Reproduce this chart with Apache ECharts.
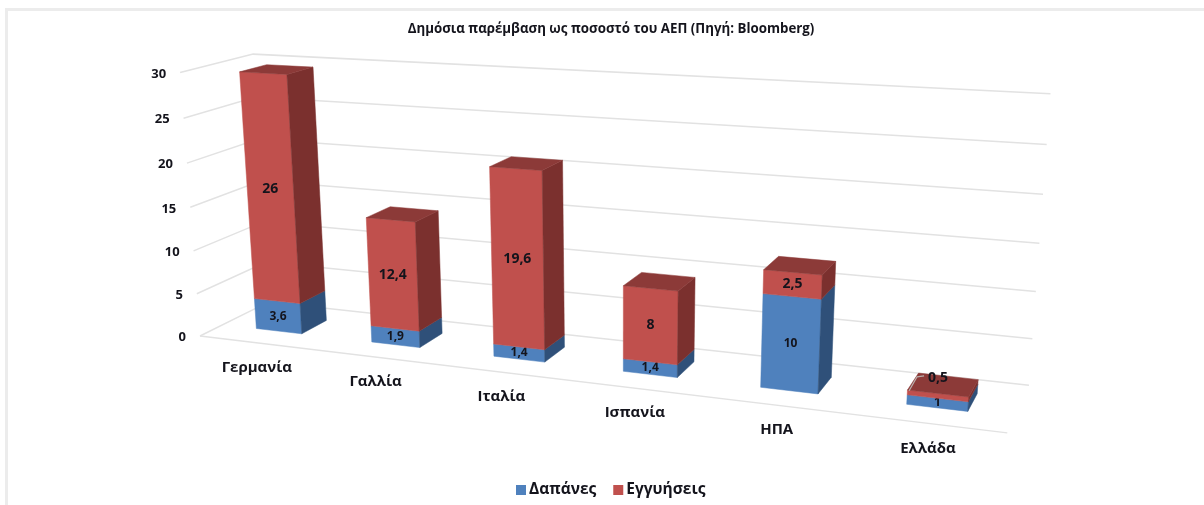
<!DOCTYPE html>
<html>
<head>
<meta charset="utf-8">
<script src="https://cdn.jsdelivr.net/npm/echarts@6/dist/echarts.min.js"></script>
<style>html,body{margin:0;padding:0;background:#fff}#c{width:1204px;height:505px;filter:blur(0.5px)}</style>
</head>
<body>
<div id="c"></div>
<script>
const chartTitle = 'Δημόσια παρέμβαση ως ποσοστό του ΑΕΠ (Πηγή: Bloomberg)';
const categories = ['Γερμανία', 'Γαλλία', 'Ιταλία', 'Ισπανία', 'ΗΠΑ', 'Ελλάδα'];
const spending = [3.6, 1.9, 1.4, 1.4, 10, 1];
const guarantees = [26, 12.4, 19.6, 8, 2.5, 0.5];
const yTicks = [0, 5, 10, 15, 20, 25, 30];
const spendingName = 'Δαπάνες';
const guaranteesName = 'Εγγυήσεις';

const FONT = '"Open Sans", "Liberation Sans", sans-serif';
const INK = '#14141c';
const BLUE = { front: '#4f81bd', side: '#2f5079', top: '#3a628f' };
const RED = { front: '#c0504d', side: '#7b302e', top: '#8c3a38' };
const GRID_LINE = '#e2e2e2';

// Hidden plotting box: the library's axes give the scale, the projection below tilts it.
const G = { left: 100, top: 60, width: 900, height: 300 };
const YMAX = 30;

// Perspective: three vanishing directions from the front-left floor corner.
const O = [200, 336];
const VX = [-3850, -150], KX = -0.0277;
const VY = [621, 5914], KY = -0.0451 / YMAX;
const VZ = [1300, -210], KZ = 0.0666;
function project(u, v, z) {
  const a = u * KX, b = v * KY, c = z * KZ;
  const w = 1 + a + b + c;
  return [
    (O[0] + a * VX[0] + b * VY[0] + c * VZ[0]) / w,
    (O[1] + a * VX[1] + b * VY[1] + c * VZ[1]) / w
  ];
}
function uOf(api, i) { return (api.coord([i, 0])[0] - G.left) / G.width * categories.length; }
function vOf(api, val) { return (G.top + G.height - api.coord([0, val])[1]) / G.height * YMAX; }

const HALF = 0.2, Z0 = 0.32, Z1 = 0.70;
function poly(points, fill) {
  return { type: 'polygon', shape: { points }, style: { fill, stroke: fill, lineWidth: 0.5 } };
}
function label(text, pos, size, align) {
  return { type: 'text', x: pos[0], y: pos[1], z2: 10,
    style: { text, font: 'bold ' + size + 'px ' + FONT, fill: INK, align: align || 'center', verticalAlign: 'middle' } };
}
function barRenderer(colors, drawTop, fontSize) {
  return function (params, api) {
    const i = api.value(0), from = vOf(api, api.value(1)), to = vOf(api, api.value(2));
    const raw = api.value(3);
    const u = uOf(api, i), l = u - HALF, r = u + HALF;
    const P = (x, y, z) => project(x, y, z);
    const children = [
      poly([P(l, from, Z0), P(r, from, Z0), P(r, to, Z0), P(l, to, Z0)], colors.front),
      poly([P(r, from, Z0), P(r, from, Z1), P(r, to, Z1), P(r, to, Z0)], colors.side)
    ];
    if (drawTop) children.push(poly([P(l, to, Z0), P(r, to, Z0), P(r, to, Z1), P(l, to, Z1)], colors.top));
    const text = String(raw).replace('.', ',');
    if (raw < 1) {
      const c = P(u, to, (Z0 + Z1) / 2);
      const t = [c[0] - 5, c[1] - 7];
      children.push({ type: 'polyline', z2: 9,
        shape: { points: [[t[0] - 29, t[1] + 13], [t[0] - 21, t[1] - 1], [t[0] - 14, t[1] - 2]] },
        style: { stroke: '#b9b0ae', lineWidth: 1.2, fill: null } });
      children.push(label(text, t, fontSize));
    } else {
      children.push(label(text, P(u, (from + to) / 2, Z0), fontSize));
    }
    return { type: 'group', children };
  };
}
function gridRenderer(params, api) {
  const v = vOf(api, api.value(1));
  const n = categories.length;
  const pts = [project(0, v, 0), project(0, v, 1), project(n, v, 1)];
  const children = [{ type: 'polyline', shape: { points: pts }, style: { stroke: GRID_LINE, lineWidth: 1.5, fill: null } }];
  if (v === 0) {
    children.push({ type: 'polyline', shape: { points: [project(0, 0, 0), project(n, 0, 0)] }, style: { stroke: GRID_LINE, lineWidth: 1.5, fill: null } });
  }
  const a = project(0, v, 0);
  children.push(label(String(api.value(1)), [a[0] - 14, a[1] + 1.5], 13, 'right'));
  return { type: 'group', children };
}
function categoryRenderer(params, api) {
  const i = api.value(0);
  const p = project(uOf(api, i), 0, 0);
  return label(categories[i], [p[0], p[1] + 25], 15);
}

const spendingData = spending.map((v, i) => [i, 0, v, v]);
const guaranteeData = guarantees.map((v, i) => [i, spending[i], spending[i] + v, v]);

const chart = echarts.init(document.getElementById('c'));
chart.setOption({
  animation: false,
  backgroundColor: '#fff',
  title: { text: chartTitle, left: 606, top: 18, textAlign: 'center',
    textStyle: { fontFamily: FONT, fontWeight: 'bold', fontSize: 13.3, color: INK } },
  legend: { data: [spendingName, guaranteesName], left: 511, top: 477, icon: 'rect', itemWidth: 10, itemHeight: 10, itemGap: 17,
    textStyle: { fontFamily: FONT, fontWeight: 'bold', fontSize: 15.5, color: INK, padding: [0, 0, 0, -2] } },
  graphic: [
    { type: 'polyline', silent: true, shape: { points: [[6.5, 505], [6.5, 9.5], [1204, 9.5]] },
      style: { stroke: '#ececec', lineWidth: 3, fill: null } }
  ],
  grid: G,
  xAxis: { type: 'category', data: categories, show: false },
  yAxis: { type: 'value', min: 0, max: YMAX, interval: 5, show: false },
  series: [
    { type: 'custom', name: 'grid', silent: true, renderItem: gridRenderer, clip: false, z: 1,
      data: yTicks.map(t => [0, t]), encode: { x: 0, y: 1 } },
    { type: 'custom', name: spendingName, renderItem: barRenderer(BLUE, false, 12), clip: false, z: 2,
      itemStyle: { color: BLUE.front }, data: spendingData, encode: { x: 0, y: [1, 2] } },
    { type: 'custom', name: guaranteesName, renderItem: barRenderer(RED, true, 14), clip: false, z: 3,
      itemStyle: { color: RED.front }, data: guaranteeData, encode: { x: 0, y: [1, 2] } },
    { type: 'custom', name: 'categories', silent: true, renderItem: categoryRenderer, clip: false, z: 4,
      data: categories.map((c, i) => [i, 0]), encode: { x: 0, y: 1 } }
  ]
});
</script>
</body>
</html>
